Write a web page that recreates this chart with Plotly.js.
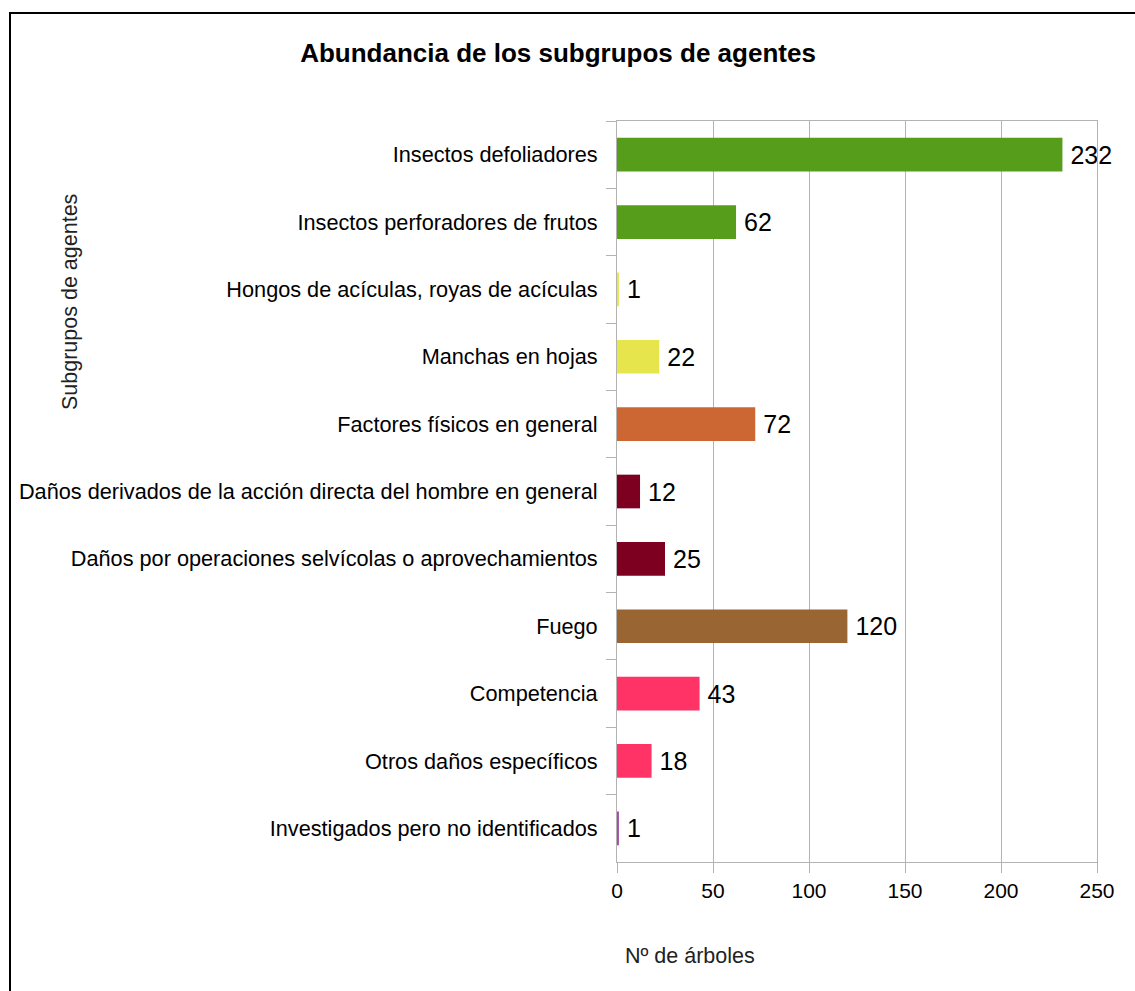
<!DOCTYPE html>
<html>
<head>
<meta charset="utf-8">
<script src="https://cdn.plot.ly/plotly-3.0.1.min.js"></script>
<style>
html,body{margin:0;padding:0;background:#fff;}
#chart{width:1135px;height:991px;}
</style>
</head>
<body>
<div id="chart"></div>
<script>
const categories = [
  "Insectos defoliadores",
  "Insectos perforadores de frutos",
  "Hongos de acículas, royas de acículas",
  "Manchas en hojas",
  "Factores físicos en general",
  "Daños derivados de la acción directa del hombre en general",
  "Daños por operaciones selvícolas o aprovechamientos",
  "Fuego",
  "Competencia",
  "Otros daños específicos",
  "Investigados pero no identificados"
];
const values = [232, 62, 1, 22, 72, 12, 25, 120, 43, 18, 1];
const barColors = [
  "#579d1c", "#579d1c", "#e6e64c", "#e6e64c", "#cc6633",
  "#7e0021", "#7e0021", "#996633", "#ff3366", "#ff3366", "#a64ca6"
];
const xTicks = [0, 50, 100, 150, 200, 250];

const FONT = "Liberation Sans, Arial, sans-serif";
const GREY = "#b3b3b3";

const trace = {
  type: "bar",
  orientation: "h",
  x: values,
  y: categories,
  marker: {color: barColors, line: {width: 0}},
  width: 0.5,
  text: values.map(v => "\u2009" + v),
  texttemplate: "%{text}",
  textposition: "outside",
  constraintext: "none",
  cliponaxis: false,
  textfont: {family: FONT, size: 25, color: "#000"},
  hoverinfo: "x+y"
};

const layout = {
  width: 1135,
  height: 991,
  margin: {l: 617, r: 38, t: 121, b: 129, pad: 0},
  paper_bgcolor: "#fff",
  plot_bgcolor: "#fff",
  showlegend: false,
  font: {family: FONT, size: 21, color: "#000"},
  title: {
    text: "<b>Abundancia de los subgrupos de agentes</b>",
    font: {family: FONT, size: 26, color: "#000"},
    x: 558 / 1135, xref: "container", xanchor: "center",
    y: 1 - 53 / 991, yref: "container", yanchor: "middle"
  },
  xaxis: {
    range: [0, 250],
    tickvals: xTicks,
    ticktext: xTicks.map(String),
    showgrid: true,
    gridcolor: GREY,
    gridwidth: 1,
    zeroline: false,
    showline: true,
    linecolor: GREY,
    linewidth: 1,
    mirror: true,
    ticks: "outside",
    ticklen: 10,
    tickcolor: GREY,
    tickfont: {family: FONT, size: 21, color: "#000"},
    fixedrange: true
  },
  yaxis: {
    type: "category",
    autorange: "reversed",
    showgrid: false,
    zeroline: false,
    showline: true,
    linecolor: GREY,
    linewidth: 1,
    mirror: true,
    ticks: "outside",
    tickson: "boundaries",
    ticklen: 10,
    tickcolor: GREY,
    ticklabelstandoff: 14,
    tickfont: {family: FONT, size: 21.7, color: "#000"},
    fixedrange: true
  },
  annotations: [
    {
      text: "Subgrupos de agentes",
      xref: "paper", yref: "paper",
      x: (70 - 617) / 480, y: (862 - 302) / 741,
      xanchor: "center", yanchor: "middle",
      textangle: -90, showarrow: false,
      font: {family: FONT, size: 21.5, color: "#222"}
    },
    {
      text: "Nº de árboles",
      xref: "paper", yref: "paper",
      x: (690 - 617) / 480, y: (862 - 956) / 741,
      xanchor: "center", yanchor: "middle",
      showarrow: false,
      font: {family: FONT, size: 21.5, color: "#222"}
    }
  ],
  shapes: [
    {
      type: "rect", xref: "paper", yref: "paper",
      x0: (10 - 617) / 480, x1: (1145 - 617) / 480,
      y0: (862 - 1000) / 741, y1: (862 - 13) / 741,
      line: {color: "#000", width: 2},
      fillcolor: "rgba(0,0,0,0)",
      layer: "below"
    }
  ]
};

Plotly.newPlot("chart", [trace], layout, {displayModeBar: false, staticPlot: true});
</script>
</body>
</html>
